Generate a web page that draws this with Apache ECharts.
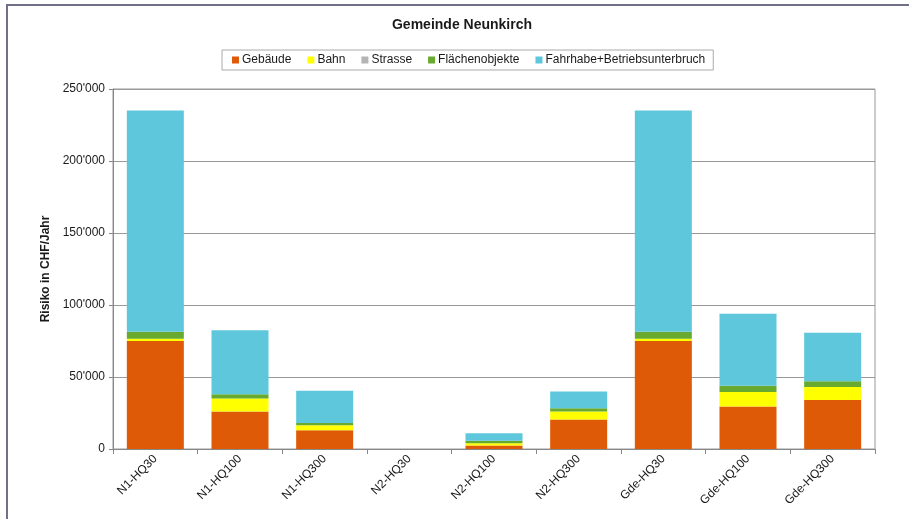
<!DOCTYPE html>
<html>
<head>
<meta charset="utf-8">
<script src="https://cdn.jsdelivr.net/npm/echarts@6/dist/echarts.min.js"></script>
<style>
html,body{margin:0;padding:0;background:#fff;}
#chart{width:909px;height:519px;}
</style>
</head>
<body>
<div id="chart"></div>
<script>
var categories = ['N1-HQ30','N1-HQ100','N1-HQ300','N2-HQ30','N2-HQ100','N2-HQ300','Gde-HQ30','Gde-HQ100','Gde-HQ300'];
var gebaeude  = [75000, 26000, 13000, 0, 2500, 20500, 75000, 29500, 34000];
var bahn      = [1500, 9000, 3500, 0, 1500, 5500, 1500, 10000, 9000];
var strasse   = [0, 0, 0, 0, 0, 0, 0, 0, 0];
var flaechen  = [5000, 3000, 1500, 0, 1800, 2300, 5000, 4500, 4000];
var fahrhabe  = [153500, 44500, 22500, 0, 5200, 11700, 153500, 50000, 33800];
var seriesNames = ['Gebäude','Bahn','Strasse','Flächenobjekte','Fahrhabe+Betriebsunterbruch'];
var seriesColors = ['#de5a06','#ffff00','#b4b4b4','#68aa30','#5ec7db'];
var seriesData = [gebaeude, bahn, strasse, flaechen, fahrhabe];

function fmt(v){
  return String(v).replace(/\B(?=(\d{3})+(?!\d))/g, "'");
}

var chart = echarts.init(document.getElementById('chart'));
var font = 'Liberation Sans, Arial, sans-serif';
chart.setOption({
  animation: false,
  backgroundColor: '#fff',
  textStyle: {fontFamily: font},
  title: {
    text: 'Gemeinde Neunkirch',
    left: 457, top: 13, textAlign: 'center',
    textStyle: {fontFamily: font, fontSize: 14, fontWeight: 'bold', color: '#1a1a1a'}
  },
  legend: {
    data: seriesNames,
    top: 50, left: 222,
    icon: 'rect', itemWidth: 7, itemHeight: 7, itemGap: 16,
    borderColor: '#aaa', borderWidth: 1, padding: [4, 8, 4, 10],
    textStyle: {fontFamily: font, fontSize: 12, color: '#1a1a1a', padding: [0,0,0,-2]}
  },
  graphic: [{
    type: 'rect', silent: true,
    shape: {x: 7, y: 5, width: 930, height: 560},
    style: {fill: 'none', stroke: '#70708a', lineWidth: 2}
  }],
  grid: {
    left: 113, right: 34, top: 89, bottom: 70,
    show: true, borderColor: '#999', borderWidth: 1
  },
  xAxis: {
    type: 'category', data: categories,
    axisLine: {lineStyle: {color: '#888'}},
    axisTick: {show: true, inside: false, length: 5, alignWithLabel: false, lineStyle: {color: '#888'}},
    axisLabel: {rotate: 45, fontSize: 12, color: '#1a1a1a', fontFamily: font, margin: 8}
  },
  yAxis: {
    type: 'value', min: 0, max: 250000, interval: 50000,
    name: 'Risiko in CHF/Jahr', nameLocation: 'middle', nameGap: 58,
    nameTextStyle: {fontFamily: font, fontSize: 12, fontWeight: 'bold', color: '#1a1a1a'},
    axisLine: {show: true, lineStyle: {color: '#888'}},
    axisTick: {show: true, length: 4, lineStyle: {color: '#888'}},
    axisLabel: {formatter: fmt, fontSize: 12, color: '#1a1a1a', fontFamily: font, margin: 8},
    splitLine: {lineStyle: {color: '#999', width: 1}}
  },
  series: seriesNames.map(function(n, i){
    return {
      name: n, type: 'bar', stack: 'total', barWidth: 57,
      itemStyle: {color: seriesColors[i]},
      data: seriesData[i]
    };
  })
});
</script>
</body>
</html>
